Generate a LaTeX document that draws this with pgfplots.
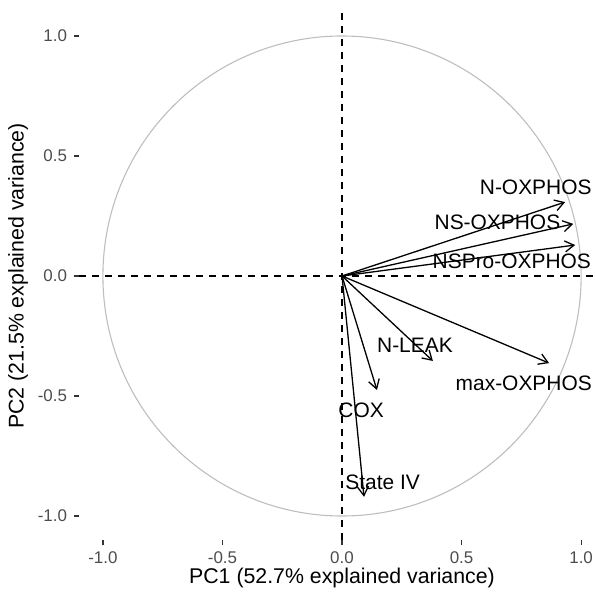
\documentclass[border=0pt]{standalone}
\usepackage{pgfplots}
\pgfplotsset{compat=1.18}
\usepackage{pgfplotstable}
\usepackage{fontspec}
\setmainfont{Liberation Sans}
\usetikzlibrary{arrows.meta}
\definecolor{tickgray}{HTML}{4D4D4D}
\definecolor{circgray}{HTML}{BEBEBE}

% variable loadings (arrow tips), arrows start at the origin
\pgfplotstableread{
x y u v
0 0 0.933 0.308
0 0 0.967 0.217
0 0 0.975 0.129
0 0 0.866 -0.363
0 0 0.380 -0.354
0 0 0.146 -0.475
0 0 0.092 -0.920
}\loadings

% label positions
\pgfplotstableread[col sep=comma]{
x,y,label
0.81,0.37,N-OXPHOS
0.65,0.225,NS-OXPHOS
0.71,0.062,NSPro-OXPHOS
0.76,-0.446,max-OXPHOS
0.305,-0.29,N-LEAK
0.08,-0.56,COX
0.17,-0.86,State IV
}\varlabels

\begin{document}
\begin{tikzpicture}
\begin{axis}[
    scale only axis,
    width=258bp, height=264bp,
    xmin=-1.1, xmax=1.058, ymin=-1.1, ymax=1.1,
    clip=false,
    axis lines*=left,
    axis line style={draw=none},
    tick align=outside,
    major tick length=2.5bp,
    tick style={draw=black!80, line width=0.6bp},
    xtick={-1,-0.5,0,0.5,1},
    ytick={-1,-0.5,0,0.5,1},
    xticklabels={-1.0,-0.5,0.0,0.5,1.0},
    yticklabels={-1.0,-0.5,0.0,0.5,1.0},
    ticklabel style={font=\fontsize{8.5}{10}\selectfont, text=tickgray},
    xlabel={PC1 (52.7\% explained variance)},
    ylabel={PC2 (21.5\% explained variance)},
    every axis x label/.style={at={(axis description cs:0.5097,-0.072)}, anchor=center},
    every axis y label/.style={at={(axis description cs:-0.118,0.5)}, rotate=90, anchor=center},
    label style={font=\fontsize{10.7}{12}\selectfont},
]
\draw[circgray, line width=0.55bp] (axis cs:0,0) ellipse [x radius=1, y radius=1];
\addplot[black, line width=0.7bp, dash pattern=on 3.5bp off 3bp] coordinates {(0,-1.1) (0,1.1)};
\addplot[black, line width=0.7bp, dash pattern=on 3.5bp off 3bp] coordinates {(-1.1,0) (1.058,0)};
\addplot[black, line width=0.65bp, -{Straight Barb[length=4.5bp,width=5.5bp]},
    quiver={u=\thisrow{u}, v=\thisrow{v}}] table {\loadings};
\addplot[draw=none, mark=none, nodes near coords, point meta=explicit symbolic,
    every node near coord/.style={anchor=center, inner sep=0pt, font=\fontsize{10.5}{12}\selectfont, text=black}]
    table[meta=label] {\varlabels};
\end{axis}
\pgfresetboundingbox
\path[use as bounding box] ([shift={(-39.5bp,-26.5bp)}]current axis.south west) rectangle ([shift={(0bp,6bp)}]current axis.north east);
\end{tikzpicture}
\end{document}
